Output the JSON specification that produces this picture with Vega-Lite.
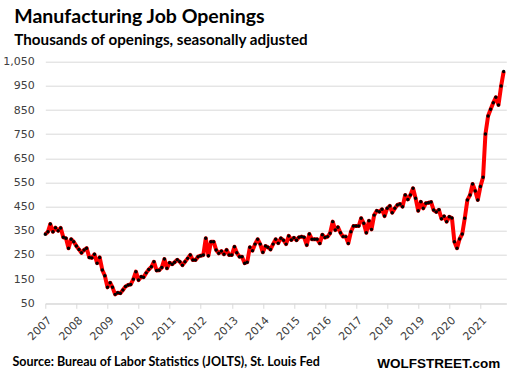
{
  "$schema": "https://vega.github.io/schema/vega-lite/v6.json",
  "width": 461,
  "height": 241.6,
  "autosize": {"type": "none"},
  "padding": {"left": 45.3, "top": 61.7, "right": 4.7, "bottom": 79.7},
  "background": "white",
  "title": {
    "text": "Manufacturing  Job Openings",
    "subtitle": "Thousands of openings, seasonally adjusted",
    "anchor": "start",
    "frame": "group",
    "dx": -31,
    "font": "Lato",
    "fontSize": 19.5,
    "fontWeight": "bold",
    "color": "#000000",
    "subtitleFont": "Lato",
    "subtitleFontSize": 15.2,
    "subtitleFontWeight": "bold",
    "subtitleColor": "#000000",
    "subtitlePadding": 5,
    "offset": 7
  },
  "data": {
    "values": [
      {"date": "2007-01-01", "openings": 336}, {"date": "2007-02-01", "openings": 346}, {"date": "2007-03-01", "openings": 378}, {"date": "2007-04-01", "openings": 346}, {"date": "2007-05-01", "openings": 363}, {"date": "2007-06-01", "openings": 350}, {"date": "2007-07-01", "openings": 362}, {"date": "2007-08-01", "openings": 323}, {"date": "2007-09-01", "openings": 319}, {"date": "2007-10-01", "openings": 278}, {"date": "2007-11-01", "openings": 315}, {"date": "2007-12-01", "openings": 305},
      {"date": "2008-01-01", "openings": 287}, {"date": "2008-02-01", "openings": 273}, {"date": "2008-03-01", "openings": 259}, {"date": "2008-04-01", "openings": 271}, {"date": "2008-05-01", "openings": 278}, {"date": "2008-06-01", "openings": 240}, {"date": "2008-07-01", "openings": 238}, {"date": "2008-08-01", "openings": 253}, {"date": "2008-09-01", "openings": 216}, {"date": "2008-10-01", "openings": 240}, {"date": "2008-11-01", "openings": 188}, {"date": "2008-12-01", "openings": 164},
      {"date": "2009-01-01", "openings": 116}, {"date": "2009-02-01", "openings": 135}, {"date": "2009-03-01", "openings": 116}, {"date": "2009-04-01", "openings": 87}, {"date": "2009-05-01", "openings": 94}, {"date": "2009-06-01", "openings": 92}, {"date": "2009-07-01", "openings": 105}, {"date": "2009-08-01", "openings": 120}, {"date": "2009-09-01", "openings": 126}, {"date": "2009-10-01", "openings": 128}, {"date": "2009-11-01", "openings": 150}, {"date": "2009-12-01", "openings": 181},
      {"date": "2010-01-01", "openings": 146}, {"date": "2010-02-01", "openings": 160}, {"date": "2010-03-01", "openings": 158}, {"date": "2010-04-01", "openings": 176}, {"date": "2010-05-01", "openings": 190}, {"date": "2010-06-01", "openings": 201}, {"date": "2010-07-01", "openings": 222}, {"date": "2010-08-01", "openings": 186}, {"date": "2010-09-01", "openings": 187}, {"date": "2010-10-01", "openings": 198}, {"date": "2010-11-01", "openings": 233}, {"date": "2010-12-01", "openings": 195},
      {"date": "2011-01-01", "openings": 218}, {"date": "2011-02-01", "openings": 212}, {"date": "2011-03-01", "openings": 220}, {"date": "2011-04-01", "openings": 230}, {"date": "2011-05-01", "openings": 222}, {"date": "2011-06-01", "openings": 208}, {"date": "2011-07-01", "openings": 222}, {"date": "2011-08-01", "openings": 236}, {"date": "2011-09-01", "openings": 250}, {"date": "2011-10-01", "openings": 229}, {"date": "2011-11-01", "openings": 229}, {"date": "2011-12-01", "openings": 243},
      {"date": "2012-01-01", "openings": 247}, {"date": "2012-02-01", "openings": 250}, {"date": "2012-03-01", "openings": 319}, {"date": "2012-04-01", "openings": 247}, {"date": "2012-05-01", "openings": 305}, {"date": "2012-06-01", "openings": 305}, {"date": "2012-07-01", "openings": 271}, {"date": "2012-08-01", "openings": 257}, {"date": "2012-09-01", "openings": 266}, {"date": "2012-10-01", "openings": 253}, {"date": "2012-11-01", "openings": 271}, {"date": "2012-12-01", "openings": 250},
      {"date": "2013-01-01", "openings": 250}, {"date": "2013-02-01", "openings": 284}, {"date": "2013-03-01", "openings": 259}, {"date": "2013-04-01", "openings": 243}, {"date": "2013-05-01", "openings": 243}, {"date": "2013-06-01", "openings": 216}, {"date": "2013-07-01", "openings": 220}, {"date": "2013-08-01", "openings": 282}, {"date": "2013-09-01", "openings": 268}, {"date": "2013-10-01", "openings": 295}, {"date": "2013-11-01", "openings": 315}, {"date": "2013-12-01", "openings": 295},
      {"date": "2014-01-01", "openings": 261}, {"date": "2014-02-01", "openings": 287}, {"date": "2014-03-01", "openings": 282}, {"date": "2014-04-01", "openings": 273}, {"date": "2014-05-01", "openings": 295}, {"date": "2014-06-01", "openings": 315}, {"date": "2014-07-01", "openings": 299}, {"date": "2014-08-01", "openings": 319}, {"date": "2014-09-01", "openings": 311}, {"date": "2014-10-01", "openings": 295}, {"date": "2014-11-01", "openings": 329}, {"date": "2014-12-01", "openings": 312},
      {"date": "2015-01-01", "openings": 321}, {"date": "2015-02-01", "openings": 311}, {"date": "2015-03-01", "openings": 323}, {"date": "2015-04-01", "openings": 326}, {"date": "2015-05-01", "openings": 323}, {"date": "2015-06-01", "openings": 291}, {"date": "2015-07-01", "openings": 337}, {"date": "2015-08-01", "openings": 315}, {"date": "2015-09-01", "openings": 315}, {"date": "2015-10-01", "openings": 315}, {"date": "2015-11-01", "openings": 298}, {"date": "2015-12-01", "openings": 334},
      {"date": "2016-01-01", "openings": 322}, {"date": "2016-02-01", "openings": 326}, {"date": "2016-03-01", "openings": 340}, {"date": "2016-04-01", "openings": 388}, {"date": "2016-05-01", "openings": 353}, {"date": "2016-06-01", "openings": 365}, {"date": "2016-07-01", "openings": 342}, {"date": "2016-08-01", "openings": 326}, {"date": "2016-09-01", "openings": 326}, {"date": "2016-10-01", "openings": 298}, {"date": "2016-11-01", "openings": 346}, {"date": "2016-12-01", "openings": 370},
      {"date": "2017-01-01", "openings": 370}, {"date": "2017-02-01", "openings": 370}, {"date": "2017-03-01", "openings": 402}, {"date": "2017-04-01", "openings": 381}, {"date": "2017-05-01", "openings": 342}, {"date": "2017-06-01", "openings": 392}, {"date": "2017-07-01", "openings": 356}, {"date": "2017-08-01", "openings": 415}, {"date": "2017-09-01", "openings": 433}, {"date": "2017-10-01", "openings": 429}, {"date": "2017-11-01", "openings": 439}, {"date": "2017-12-01", "openings": 411},
      {"date": "2018-01-01", "openings": 443}, {"date": "2018-02-01", "openings": 453}, {"date": "2018-03-01", "openings": 425}, {"date": "2018-04-01", "openings": 443}, {"date": "2018-05-01", "openings": 457}, {"date": "2018-06-01", "openings": 461}, {"date": "2018-07-01", "openings": 450}, {"date": "2018-08-01", "openings": 498}, {"date": "2018-09-01", "openings": 480}, {"date": "2018-10-01", "openings": 498}, {"date": "2018-11-01", "openings": 526}, {"date": "2018-12-01", "openings": 485},
      {"date": "2019-01-01", "openings": 433}, {"date": "2019-02-01", "openings": 470}, {"date": "2019-03-01", "openings": 443}, {"date": "2019-04-01", "openings": 464}, {"date": "2019-05-01", "openings": 466}, {"date": "2019-06-01", "openings": 469}, {"date": "2019-07-01", "openings": 436}, {"date": "2019-08-01", "openings": 428}, {"date": "2019-09-01", "openings": 437}, {"date": "2019-10-01", "openings": 400}, {"date": "2019-11-01", "openings": 410}, {"date": "2019-12-01", "openings": 388},
      {"date": "2020-01-01", "openings": 408}, {"date": "2020-02-01", "openings": 403}, {"date": "2020-03-01", "openings": 305}, {"date": "2020-04-01", "openings": 278}, {"date": "2020-05-01", "openings": 316}, {"date": "2020-06-01", "openings": 337}, {"date": "2020-07-01", "openings": 402}, {"date": "2020-08-01", "openings": 478}, {"date": "2020-09-01", "openings": 498}, {"date": "2020-10-01", "openings": 544}, {"date": "2020-11-01", "openings": 515}, {"date": "2020-12-01", "openings": 478},
      {"date": "2021-01-01", "openings": 533}, {"date": "2021-02-01", "openings": 572}, {"date": "2021-03-01", "openings": 751}, {"date": "2021-04-01", "openings": 825}, {"date": "2021-05-01", "openings": 853}, {"date": "2021-06-01", "openings": 880}, {"date": "2021-07-01", "openings": 903}, {"date": "2021-08-01", "openings": 871}, {"date": "2021-09-01", "openings": 949}, {"date": "2021-10-01", "openings": 1009}
    ]
  },
  "mark": {
    "type": "line",
    "color": "#ff0000",
    "strokeWidth": 4,
    "strokeJoin": "round",
    "point": {"filled": true, "color": "#000000", "size": 12, "opacity": 1}
  },
  "encoding": {
    "x": {
      "field": "date",
      "type": "temporal",
      "scale": {"type": "utc", "domain": ["2007-01-01", "2021-11-01"], "nice": false},
      "axis": {
        "format": "%Y",
        "tickCount": {"interval": "year", "step": 1},
        "labelAngle": -45,
        "labelFont": "DejaVu Sans",
        "labelFontSize": 11,
        "labelColor": "#404040",
        "labelPadding": 6,
        "grid": false,
        "ticks": true,
        "tickSize": 5,
        "tickColor": "#d9d9d9",
        "domain": true,
        "domainColor": "#d9d9d9",
        "title": "Source: Bureau of Labor Statistics (JOLTS), St. Louis Fed",
        "titleFont": "Lato",
        "titleFontSize": 12.5,
        "titleFontWeight": "bold",
        "titleColor": "#000000",
        "titleAnchor": "start",
        "titleAlign": "left",
        "titleBaseline": "alphabetic",
        "titleX": -33.3,
        "titleY": 62.4
      }
    },
    "y": {
      "field": "openings",
      "type": "quantitative",
      "scale": {"domain": [50, 1050], "nice": false, "zero": false},
      "axis": {
        "values": [50, 150, 250, 350, 450, 550, 650, 750, 850, 950, 1050],
        "format": ",.0f",
        "labelFont": "DejaVu Sans",
        "labelFontSize": 11,
        "labelColor": "#404040",
        "labelPadding": 11,
        "grid": true,
        "gridColor": "#d9d9d9",
        "gridWidth": 1,
        "ticks": false,
        "domain": false,
        "title": "WOLFSTREET.com",
        "titleFont": "Liberation Sans",
        "titleFontSize": 13.5,
        "titleFontWeight": "bold",
        "titleColor": "#000000",
        "titleAngle": 0,
        "titleAlign": "left",
        "titleBaseline": "alphabetic",
        "titleX": 331.4,
        "titleY": 306
      }
    }
  },
  "config": {"view": {"stroke": null}}
}
